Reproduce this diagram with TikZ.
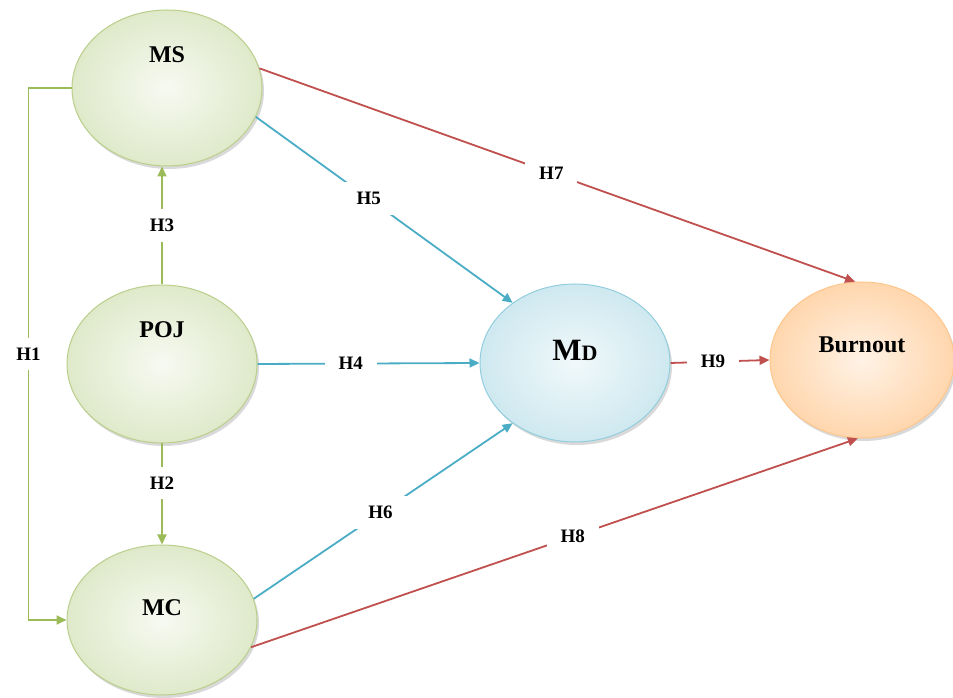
\documentclass[tikz,border=0pt]{standalone}
\usepackage{fontspec}
\setmainfont{Liberation Serif}
\usetikzlibrary{shapes.geometric,arrows.meta,shadows}
\definecolor{olivegr}{HTML}{9BBB59}
\definecolor{aqua}{HTML}{4BACC6}
\definecolor{brick}{HTML}{C0504D}
\begin{document}
\begin{tikzpicture}[x=1pt,y=1pt,
  factor/.style={ellipse,minimum width=190pt,minimum height=156pt,line width=1pt,
    drop shadow={shadow xshift=2pt,shadow yshift=-3pt,opacity=.3}},
  greenf/.style={factor,draw=olivegr!70,inner color=olivegr!8,outer color=olivegr!32},
  bluef/.style={factor,draw=aqua!60,inner color=aqua!8,outer color=aqua!27},
  orangef/.style={factor,draw=orange!45,inner color=orange!10,outer color=orange!32},
  hyp/.style={fill=white,inner xsep=14pt,inner ysep=10pt,font=\fontsize{19}{19}\selectfont\bfseries},
  ttl/.style={font=\fontsize{24}{24}\selectfont\bfseries},
  greenl/.style={draw=olivegr,line width=1.8pt,-{Triangle[length=10pt,width=9pt]}},
  bluel/.style={draw=aqua,line width=1.8pt,-{Triangle[length=10pt,width=9pt]}},
  redl/.style={draw=brick,line width=1.8pt,-{Triangle[length=10pt,width=9pt]}}]
\useasboundingbox (0,0) rectangle (953,698);

% constructs
\node[greenf,label={[ttl,yshift=33pt]center:MS}] (MS) at (167,610) {};
\node[greenf,minimum height=158pt,label={[ttl,yshift=34pt]center:POJ}] (POJ) at (162,334) {};
\node[greenf,minimum height=150pt,label={[ttl,yshift=12pt]center:MC}] (MC) at (162,78) {};
\node[bluef,minimum height=158pt,label={[yshift=13pt]center:\bfseries{\fontsize{31}{31}\selectfont M}{\fontsize{22}{22}\selectfont D}}] (MD) at (575,335) {};
\node[orangef,minimum width=184pt,label={[ttl,yshift=15pt]center:Burnout}] (Burnout) at (862,338) {};

% hypotheses
\draw[greenl] (MS.west) -- ++(-43,0) coordinate (h1a) -- (h1a |- MC.west) node[hyp,midway] {H1} -- (MC.west);
\draw[greenl] (POJ.south) -- (MC.north) node[hyp,pos=.39] {H2};
\draw[greenl] (POJ.north) -- (POJ.north |- MS.south) node[hyp,pos=.5] {H3};
\draw[bluel] (POJ.east) -- (MD.west) node[hyp,pos=.42] {H4};
\draw[bluel] (MS.-18) -- (MD.136) node[hyp,pos=.44] {H5};
\draw[bluel] (MC.13) -- (MD.224) node[hyp,pos=.49] {H6};
\draw[redl] (MS.12) -- (Burnout.95) node[hyp,pos=.49] {H7};
\draw[redl] (MC.-17) -- (Burnout.267) node[hyp,pos=.53] {H8};
\draw[redl] (MD.east) -- (Burnout.west) node[hyp,pos=.43] {H9};
\end{tikzpicture}
\end{document}
